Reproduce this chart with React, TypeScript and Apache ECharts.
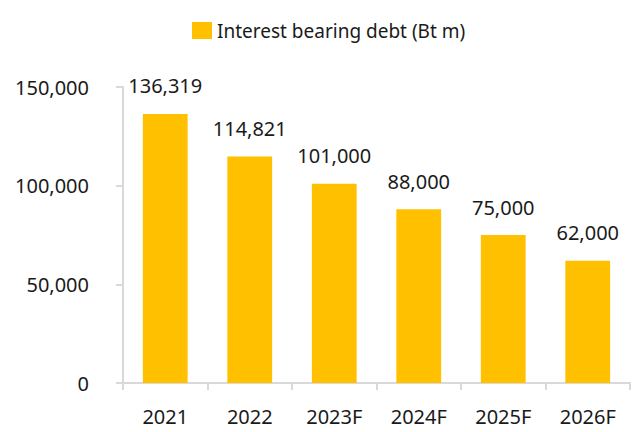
import React, { useEffect, useRef } from "react";
import * as echarts from "echarts";

const categories = ["2021", "2022", "2023F", "2024F", "2025F", "2026F"];
const debtValues = [136319, 114821, 101000, 88000, 75000, 62000];
const seriesName = "Interest bearing debt (Bt m)";
const yMin = 0;
const yMax = 150000;
const yInterval = 50000;

const fmt = (v: number) => v.toLocaleString("en-US");
const FONT = "Noto Sans";

export default function App() {
  const ref = useRef<HTMLDivElement>(null);
  useEffect(() => {
    if (!ref.current) return;
    const chart = echarts.init(ref.current, null, { renderer: "svg" });
    chart.setOption({
      animation: false,
      backgroundColor: "#ffffff",
      textStyle: { fontFamily: FONT },
      legend: {
        top: 16,
        left: 187,
        itemWidth: 20,
        itemHeight: 17,
        itemGap: 6,
        icon: "rect",
        textStyle: { fontSize: 19, color: "#1a1a1a", fontFamily: FONT },
        data: [seriesName],
      },
      grid: { left: 123, right: 8, top: 87, bottom: 49, containLabel: false },
      xAxis: {
        type: "category",
        data: categories,
        axisLine: { show: true, lineStyle: { color: "#d9d9d9", width: 2 } },
        axisTick: { show: true, length: 7, lineStyle: { color: "#d9d9d9", width: 2 } },
        axisLabel: { color: "#1a1a1a", fontSize: 20, margin: 23, fontFamily: FONT },
        splitLine: { show: false },
      },
      yAxis: {
        type: "value",
        min: yMin,
        max: yMax,
        interval: yInterval,
        axisLine: { show: true, lineStyle: { color: "#d9d9d9", width: 2 } },
        axisTick: { show: true, length: 7, lineStyle: { color: "#d9d9d9", width: 2 } },
        axisLabel: {
          color: "#1a1a1a",
          fontSize: 20,
          margin: 34,
          fontFamily: FONT,
          formatter: (v: number) => fmt(v),
        },
        splitLine: { show: false },
      },
      series: [
        {
          name: seriesName,
          type: "bar",
          data: debtValues,
          barWidth: "53%",
          itemStyle: { color: "#FFC000" },
          label: {
            show: true,
            position: "top",
            distance: 18,
            color: "#1a1a1a",
            fontSize: 20,
            fontFamily: FONT,
            formatter: (p: any) => fmt(p.value),
          },
        },
      ],
    });
    return () => chart.dispose();
  }, []);
  return (
    <div
      ref={ref}
      style={{ position: "absolute", left: 0, top: 0, width: 638, height: 432 }}
    />
  );
}
